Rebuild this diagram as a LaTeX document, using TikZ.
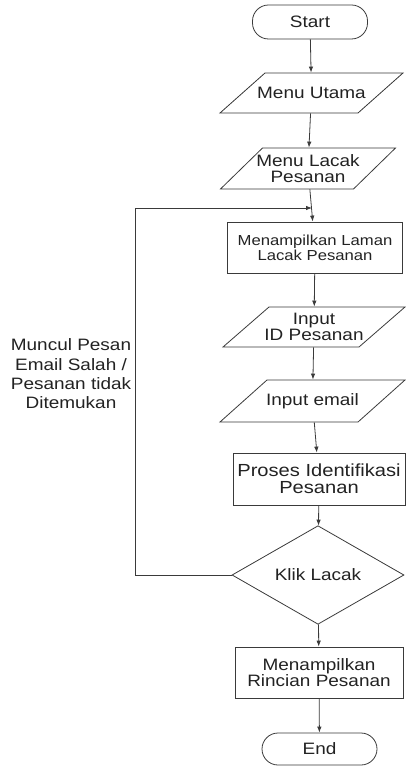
\documentclass[tikz,border=0pt]{standalone}
\usepackage{fontspec}
\setmainfont{Liberation Sans}[FakeStretch=1.15]
\usetikzlibrary{shapes.geometric,arrows.meta,calc}
\definecolor{ink}{HTML}{3A3A3A}
\definecolor{txt}{HTML}{222222}
\tikzset{
  outline/.style={draw=ink, line width=0.8pt},
  base/.style={outline, text=txt, align=center, inner sep=1pt,
               font=\fontsize{16.5}{16.5}\selectfont},
  term/.style={base, rectangle, rounded corners=16pt},
  iobox/.style={base, rectangle, draw=none},
  procbox/.style={base, rectangle},
  decide/.style={base, diamond, inner sep=0pt},
  arr/.style={outline, -{Latex[length=6pt,width=4.5pt]}}
}
% slanted input/output outline around a node:
% name, half width, half height, skew
\newcommand\ioframe[4]{%
  \draw[outline] ($(#1)+(-#2+#4,-#3)$) -- ($(#1)+(#2,-#3)$)
    -- ($(#1)+(#2-#4,#3)$) -- ($(#1)+(-#2,#3)$) -- cycle;}
\begin{document}
\begin{tikzpicture}[x=1pt,y=-1pt]
  \useasboundingbox (0,0) rectangle (405,767);

  % flow nodes
  \node[term, minimum width=115pt, minimum height=34pt] (start) at (310,22) {Start};
  \node[iobox, minimum width=138pt, minimum height=40pt] (menu) at (311.5,93) {Menu Utama};
  \node[iobox, minimum width=133pt, minimum height=41pt] (lacak) at (308,168.5) {Menu Lacak\\Pesanan};
  \node[procbox, minimum width=175pt, minimum height=51pt,
        font=\fontsize{14.5}{15}\selectfont] (laman) at (315,247.5) {Menampilkan Laman\\Lacak Pesanan};
  \node[iobox, minimum width=137pt, minimum height=40pt] (inid) at (314,327) {Input\\ID Pesanan};
  \node[iobox, minimum width=138pt, minimum height=42pt] (inmail) at (312.5,401) {Input email};
  \node[procbox, minimum width=172pt, minimum height=52pt,
        font=\fontsize{17.5}{16.7}\selectfont] (proses) at (319,479) {Proses Identifikasi\\Pesanan};
  \node[decide, minimum width=172pt, minimum height=74pt] (klik) at (318,575) {Klik Lacak};
  \node[procbox, minimum width=168pt, minimum height=51pt] (rincian) at (319,672.5) {Menampilkan\\Rincian Pesanan};
  \node[term, minimum width=115pt, minimum height=32pt] (end) at (319.5,749) {End};

  \ioframe{menu}{91.5}{20}{45}
  \ioframe{lacak}{87.5}{20.5}{42}
  \ioframe{inid}{91}{20}{46}
  \ioframe{inmail}{92.5}{21}{47}

  % loop-back label
  \node[text=txt, align=center, font=\fontsize{16.5}{19.3}\selectfont] (msg) at (71,374)
    {Muncul Pesan\\Email Salah /\\Pesanan tidak\\Ditemukan};

  % connectors
  \draw[arr] (start) -- (menu);
  \draw[arr] (menu) -- (lacak);
  \draw[arr] (lacak) -- (laman);
  \draw[arr] (laman) -- (inid);
  \draw[arr] (inid) -- (inmail);
  \draw[arr] (inmail) -- (proses);
  \draw[arr] (proses) -- (klik);
  \draw[arr] (klik) -- (rincian);
  \draw[arr] (rincian) -- (end);

  \coordinate (bend) at (135,208);
  \coordinate (join) at (312,208);
  \draw[arr] (klik.west) -| (bend) -- (join);
\end{tikzpicture}
\end{document}
